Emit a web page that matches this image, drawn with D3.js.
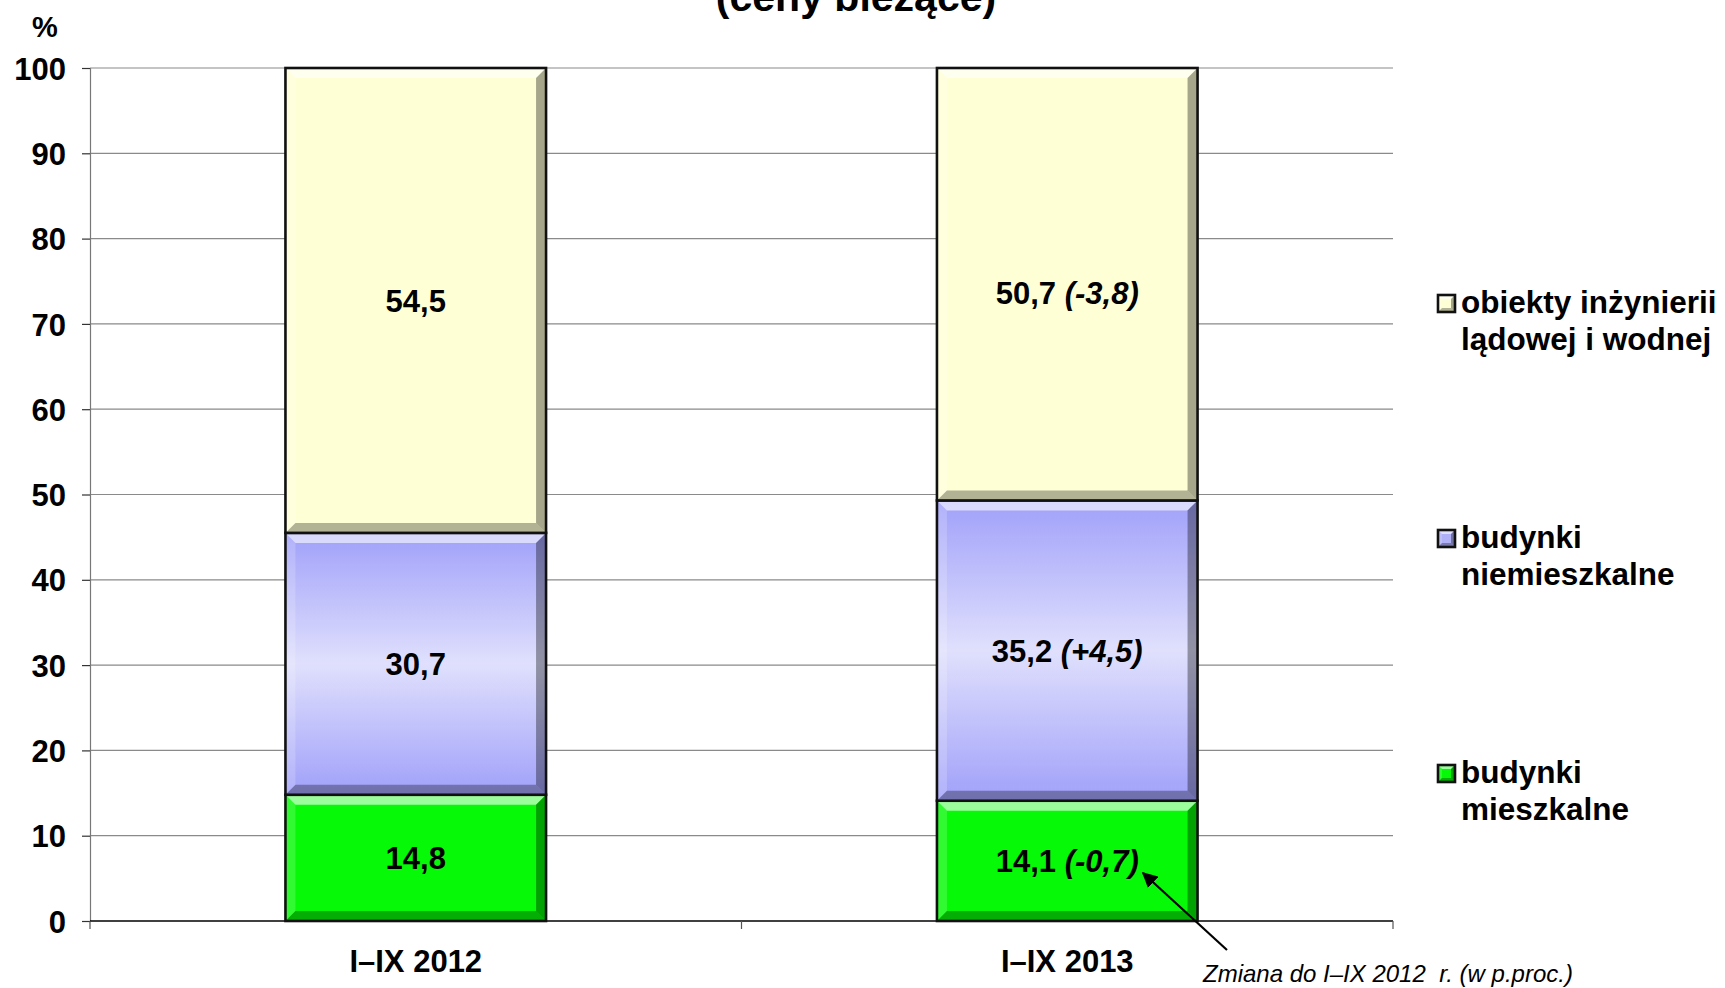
<!DOCTYPE html>
<html>
<head>
<meta charset="utf-8">
<script src="https://cdn.jsdelivr.net/npm/d3@7"></script>
<style>
  html, body { margin: 0; padding: 0; background: #ffffff; }
  svg { display: block; font-family: "Liberation Sans", Arial, sans-serif; }
</style>
</head>
<body>
<svg id="chart" width="1725" height="988"></svg>
<script>
// Structure of construction output by type of construction object (current prices)
const periods = ["I\u2013IX 2012", "I\u2013IX 2013"];
const mieszkalne = [14.8, 14.1];
const niemieszkalne = [30.7, 35.2];
const inzynieria = [54.5, 50.7];
// change vs I–IX 2012, percentage points
const changeMieszkalne = [null, "-0,7"];
const changeNiemieszkalne = [null, "+4,5"];
const changeInzynieria = [null, "-3,8"];
const yTicks = [0, 10, 20, 30, 40, 50, 60, 70, 80, 90, 100];
const legendLines = [
  ["obiekty inżynierii", "lądowej i wodnej"],
  ["budynki", "niemieszkalne"],
  ["budynki", "mieszkalne"]
];
const titleText = "(ceny bieżące)";
const noteText = "Zmiana do I\u2013IX 2012  r. (w p.proc.)";

const svg = d3.select("#chart");
const FONT = 31;

const margin = { left: 90, right: 1393, top: 68, bottom: 921 };

const x = d3.scaleBand()
  .domain(periods)
  .range([margin.left, margin.right])
  .paddingInner(0.6)
  .paddingOuter(0.3);

const y = d3.scaleLinear().domain([0, 100]).range([margin.bottom, margin.top]);

// stacked table
const table = periods.map((p, i) => ({
  period: p,
  mieszkalne: mieszkalne[i],
  niemieszkalne: niemieszkalne[i],
  inzynieria: inzynieria[i]
}));
const keys = ["mieszkalne", "niemieszkalne", "inzynieria"];
const values = { mieszkalne, niemieszkalne, inzynieria };
const changes = { mieszkalne: changeMieszkalne, niemieszkalne: changeNiemieszkalne, inzynieria: changeInzynieria };
const stack = d3.stack().keys(keys)(table);

// gradients
const defs = svg.append("defs");
const gPurple = defs.append("linearGradient").attr("id", "gPurple")
  .attr("x1", 0).attr("y1", 0).attr("x2", 0).attr("y2", 1);
gPurple.append("stop").attr("offset", "0%").attr("stop-color", "#a0a0fa");
gPurple.append("stop").attr("offset", "50%").attr("stop-color", "#e0e0fd");
gPurple.append("stop").attr("offset", "100%").attr("stop-color", "#a0a0fa");

const fills = { mieszkalne: "#06f906", niemieszkalne: "url(#gPurple)", inzynieria: "#ffffd6" };

// gridlines
svg.append("g")
  .selectAll("line")
  .data(yTicks.filter(t => t > 0))
  .join("line")
  .attr("x1", margin.left).attr("x2", margin.right)
  .attr("y1", d => y(d)).attr("y2", d => y(d))
  .attr("stroke", "#8a8a8a").attr("stroke-width", 1.2);

// y axis
const yAxis = d3.axisLeft(y).tickValues(yTicks).tickSize(8).tickPadding(16).tickFormat(d3.format("d"));
const gy = svg.append("g").attr("transform", `translate(${margin.left},0)`).call(yAxis);
gy.select(".domain").attr("stroke", "#777").attr("stroke-width", 1.2);
gy.selectAll(".tick line").attr("stroke", "#333").attr("stroke-width", 1.2);
gy.selectAll(".tick text")
  .attr("font-size", FONT).attr("font-weight", "bold").attr("fill", "#000")
  .attr("font-family", "'Liberation Sans', Arial, sans-serif")
  .attr("dy", "0.36em");

// x axis baseline and category boundary ticks
svg.append("line")
  .attr("x1", margin.left).attr("x2", margin.right)
  .attr("y1", y(0)).attr("y2", y(0))
  .attr("stroke", "#000").attr("stroke-width", 1.5);
const step = x.step();
const bounds = [margin.left, margin.left + step, margin.left + 2 * step];
svg.append("g").selectAll("line").data(bounds).join("line")
  .attr("x1", d => d).attr("x2", d => d)
  .attr("y1", y(0)).attr("y2", y(0) + 8)
  .attr("stroke", "#555").attr("stroke-width", 1.2);

svg.append("g").selectAll("text").data(periods).join("text")
  .attr("x", d => x(d) + x.bandwidth() / 2)
  .attr("y", 972)
  .attr("text-anchor", "middle")
  .attr("font-size", FONT).attr("font-weight", "bold")
  .text(d => d);

// bevelled segment
function bevelRect(g, x0, y0, w, h, fill, b) {
  g.append("rect").attr("x", x0).attr("y", y0).attr("width", w).attr("height", h).attr("fill", fill);
  const bb = Math.min(b, h / 2, w / 2);
  g.append("polygon")
    .attr("points", [[x0, y0], [x0 + w, y0], [x0 + w - bb, y0 + bb], [x0 + bb, y0 + bb]].join(" "))
    .attr("fill", "#ffffff").attr("opacity", 0.6);
  g.append("polygon")
    .attr("points", [[x0, y0], [x0 + bb, y0 + bb], [x0 + bb, y0 + h - bb], [x0, y0 + h]].join(" "))
    .attr("fill", "#ffffff").attr("opacity", 0.18);
  g.append("polygon")
    .attr("points", [[x0 + w, y0], [x0 + w, y0 + h], [x0 + w - bb, y0 + h - bb], [x0 + w - bb, y0 + bb]].join(" "))
    .attr("fill", "#000000").attr("opacity", 0.35);
  g.append("polygon")
    .attr("points", [[x0, y0 + h], [x0 + bb, y0 + h - bb], [x0 + w - bb, y0 + h - bb], [x0 + w, y0 + h]].join(" "))
    .attr("fill", "#000000").attr("opacity", 0.3);
  g.append("rect").attr("x", x0).attr("y", y0).attr("width", w).attr("height", h)
    .attr("fill", "none").attr("stroke", "#111").attr("stroke-width", 2.6);
}

const barsG = svg.append("g");
stack.forEach(layer => {
  layer.forEach((seg, i) => {
    const p = periods[i];
    const y0 = y(seg[1]), y1 = y(seg[0]);
    bevelRect(barsG.append("g"), x(p), y0, x.bandwidth(), y1 - y0, fills[layer.key], 10);
  });
});

// value labels; the top 2013 label sits a little lower than the segment centre
const labelNudge = { "inzynieria-1": 9 };
stack.forEach(layer => {
  layer.forEach((seg, i) => {
    const p = periods[i];
    const nudge = labelNudge[layer.key + "-" + i] || 0;
    const t = svg.append("text")
      .attr("x", x(p) + x.bandwidth() / 2)
      .attr("y", y((seg[0] + seg[1]) / 2) + nudge)
      .attr("dy", "0.36em")
      .attr("text-anchor", "middle")
      .attr("font-size", FONT).attr("font-weight", "bold");
    t.append("tspan").text(d3.format(".1f")(values[layer.key][i]).replace(".", ","));
    const ch = changes[layer.key][i];
    if (ch) t.append("tspan").attr("font-style", "italic").text(" (" + ch + ")");
  });
});

// title (runs off the top edge)
svg.append("text")
  .attr("x", 856).attr("y", 11)
  .attr("text-anchor", "middle")
  .attr("font-size", 41).attr("font-weight", "bold")
  .text(titleText);

// unit label
svg.append("text")
  .attr("x", 45).attr("y", 37)
  .attr("text-anchor", "middle")
  .attr("font-size", 29).attr("font-weight", "bold")
  .text("%");

// legend
const legendKeys = ["inzynieria", "niemieszkalne", "mieszkalne"];
const legendBase = [313, 548, 783];
const legendSwatch = { inzynieria: "#ffffd6", niemieszkalne: "#b0b0f6", mieszkalne: "#06f906" };
const lg = svg.append("g");
legendKeys.forEach((k, i) => {
  const by = legendBase[i];
  bevelRect(lg.append("g"), 1438, by - 18, 17, 17, legendSwatch[k], 4);
  const t = lg.append("text").attr("font-size", 31.5).attr("font-weight", "bold");
  legendLines[i].forEach((line, j) => {
    t.append("tspan").attr("x", 1461).attr("y", by + j * 37).text(line);
  });
});

// note with arrow pointing to the change in brackets
defs.append("marker").attr("id", "arrowHead")
  .attr("viewBox", "0 0 10 10").attr("refX", 9).attr("refY", 5)
  .attr("markerWidth", 7).attr("markerHeight", 7).attr("orient", "auto")
  .append("path").attr("d", "M0,0 L10,5 L0,10 Z").attr("fill", "#000");
svg.append("line")
  .attr("x1", 1227).attr("y1", 950).attr("x2", 1143).attr("y2", 873)
  .attr("stroke", "#000").attr("stroke-width", 2.2)
  .attr("marker-end", "url(#arrowHead)");
svg.append("text")
  .attr("x", 1203).attr("y", 982)
  .attr("font-size", 24).attr("font-style", "italic")
  .style("white-space", "pre")
  .text(noteText);
</script>
</body>
</html>
